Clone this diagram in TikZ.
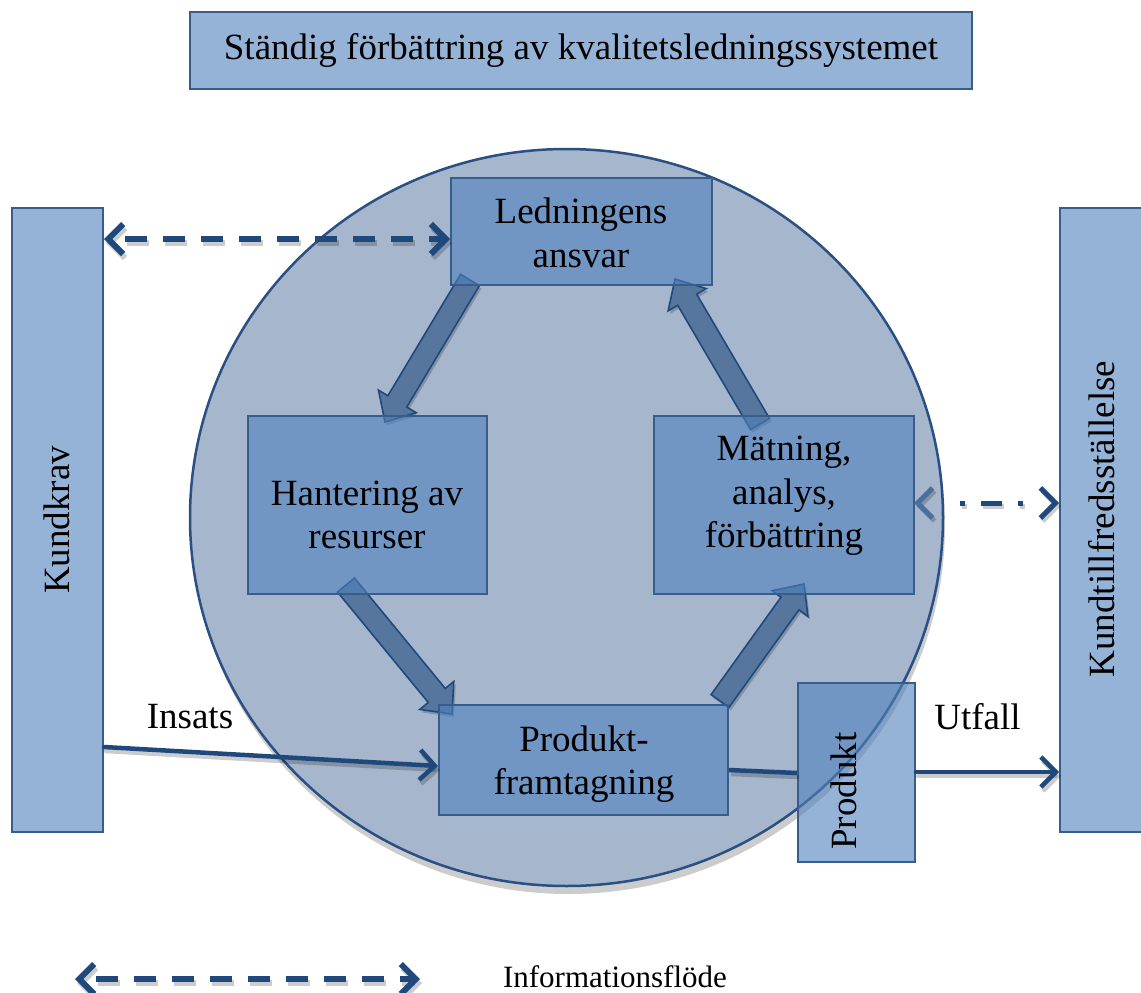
\documentclass[tikz,border=0pt]{standalone}
\usepackage{fontspec}
\setmainfont{Liberation Serif}
\usetikzlibrary{arrows.meta,calc,shapes.geometric}

\definecolor{boxfill}{HTML}{4F81BD}
\definecolor{boxline}{HTML}{385D8A}
\definecolor{navy}{HTML}{1F497D}
\definecolor{softnavy}{HTML}{4A6E9E}
\definecolor{ringline}{HTML}{2A5083}
\definecolor{ringfill}{HTML}{A6B6CC}
\definecolor{arrowfill}{HTML}{56769E}

% outline of a broad block arrow from #1 (tail centre) to #2 (tip)
\newcommand{\fatoutline}[2]{($(#1)!11pt!90:(#2)$) -- ($(#1-base)!11pt!90:(#2)$) -- ($(#1-base)!22pt!90:(#2)$) -- (#2) -- ($(#1-base)!22pt!-90:(#2)$) -- ($(#1-base)!11pt!-90:(#2)$) -- ($(#1)!11pt!-90:(#2)$) -- cycle}
\newcommand{\fatarrow}[2]{%
  \coordinate (#1-base) at ($(#2)!24pt!(#1)$);
  \fill[black, opacity=0.2, transform canvas={shift={(2pt,-3pt)}}] \fatoutline{#1}{#2};
  \draw[blockarrow] \fatoutline{#1}{#2};
}

\tikzset{
  panel/.style={draw=boxline, line width=2pt, fill=boxfill, fill opacity=0.6,
    text opacity=1, inner sep=0pt},
  txt/.style={font=\fontsize{37}{43.5}\selectfont, align=center, inner sep=0pt, text=black},
  blockarrow/.style={draw=navy, line width=1.6pt, fill=arrowfill, line join=miter},
  link/.style={draw=navy, line width=4.5pt},
  shadowlink/.style={draw=black, draw opacity=0.2, line width=4.5pt},
  barb/.style={line cap=round, line join=round, arrows={-{Straight Barb[length=15pt,width=30pt]}}},
  barbs/.style={line cap=butt, line join=round, arrows={{Straight Barb[length=15pt,width=30pt]}-{Straight Barb[length=15pt,width=30pt]}}},
  infoline/.style={line width=6pt, dash pattern=on 22pt off 16pt, dash phase=24pt},
  ddline/.style={line width=5pt, dash pattern=on 0pt off 40pt on 5pt off 16pt on 21pt off 16pt on 5pt off 80pt},
}

\begin{document}
\begin{tikzpicture}[x=1pt,y=-1pt]
\useasboundingbox (0,0) rectangle (1141,993);

% title and the two customer columns
\node[panel, minimum width=782, minimum height=77] (title) at (581,50.5) {};
\node[txt] at (title.center) {Ständig förbättring av kvalitetsledningssystemet};
\node[panel, minimum width=91, minimum height=624] (kundkrav) at (57.5,520) {};
\node[txt, rotate=90] at (57,520) {Kundkrav};
\node[panel, minimum width=82, minimum height=624] (kt) at (1101,520) {};
\node[txt, rotate=90] at (1102,519) {Kundtillfredsställelse};

% the process ring
\node[ellipse, fill=black, fill opacity=0.2, minimum width=753, minimum height=737,
  inner sep=0pt, transform canvas={shift={(1pt,-4pt)}}] at (566.5,517.5) {};
\node[ellipse, draw=ringline, line width=2.5pt, fill=ringfill,
  minimum width=753, minimum height=737, inner sep=0pt] (ring) at (566.5,517.5) {};

% measurement feedback to the customer
\coordinate (dd-l) at (914,503);
\coordinate (dd-r) at (1059,503);
\draw[shadowlink, barbs, ddline, transform canvas={shift={(2pt,-3pt)}}] (dd-l) -- (dd-r);
\draw[link, line cap=butt, line join=round, ddline,
  arrows={{Straight Barb[length=15pt,width=30pt,color=softnavy]}-{Straight Barb[length=15pt,width=30pt]}}]
  (dd-l) -- (dd-r);

% block arrows of the cycle
\coordinate (a1) at (470,280);  \coordinate (a1h) at (385,422);
\coordinate (a2) at (346,585);  \coordinate (a2h) at (452,714);
\coordinate (a3) at (720,701);  \coordinate (a3h) at (804,584);
\coordinate (a4) at (760,424);  \coordinate (a4h) at (675,279);
\fatarrow{a1}{a1h}
\fatarrow{a2}{a2h}
\fatarrow{a3}{a3h}
\fatarrow{a4}{a4h}

% process boxes
\node[panel, minimum width=261, minimum height=107] (ledn) at (581.5,231.5) {};
\node[panel, minimum width=239, minimum height=178] (hant) at (367.5,505) {};
\node[panel, minimum width=260, minimum height=178] (mat) at (784,505) {};
\node[panel, minimum width=289, minimum height=110] (prodfram) at (583.5,760) {};
\node[panel, minimum width=117, minimum height=179] (produkt) at (856.5,772.5) {};

% flows
\begin{scope}[transform canvas={shift={(2pt,-4pt)}}]
  \draw[shadowlink, barb] (kundkrav.east |- 0,747) -- (prodfram.west |- 0,766);
  \draw[shadowlink] (prodfram.east |- 0,770) -- (produkt.west |- 0,773);
  \draw[shadowlink, barb] (produkt.east |- 0,772) -- (kt.west |- 0,772);
  \draw[shadowlink, barbs, infoline] (kundkrav.east |- 0,239) -- (ledn.west |- 0,239);
\end{scope}
\draw[link, barb] (kundkrav.east |- 0,747) -- (prodfram.west |- 0,766);
\draw[link] (prodfram.east |- 0,770) -- (produkt.west |- 0,773);
\draw[link, barb] (produkt.east |- 0,772) -- (kt.west |- 0,772);
\draw[link, barbs, infoline] (kundkrav.east |- 0,239) -- (ledn.west |- 0,239);

% texts
\node[txt] at (581,233) {Ledningens\\ansvar};
\node[txt] at (367,515) {Hantering av\\resurser};
\node[txt] at (784,496) {Mätning,\\analys,\\förbättring};
\node[txt] at (584,764) {Produkt-\\framtagning};
\node[txt, rotate=90] at (844,791) {Produkt};
\node[txt] (insats) at (190,716.5) {Insats};
\node[txt] (utfall) at (977.5,716.5) {Utfall};

% legend
\coordinate (leg-l) at (75,979);
\coordinate (leg-r) at (420,979);
\draw[shadowlink, barbs, infoline, transform canvas={shift={(2pt,-4pt)}}] (leg-l) -- (leg-r);
\draw[link, barbs, infoline] (leg-l) -- (leg-r);
\node[txt, font=\fontsize{31}{36}\selectfont] (legend) at (615,977) {Informationsflöde};
\end{tikzpicture}
\end{document}
